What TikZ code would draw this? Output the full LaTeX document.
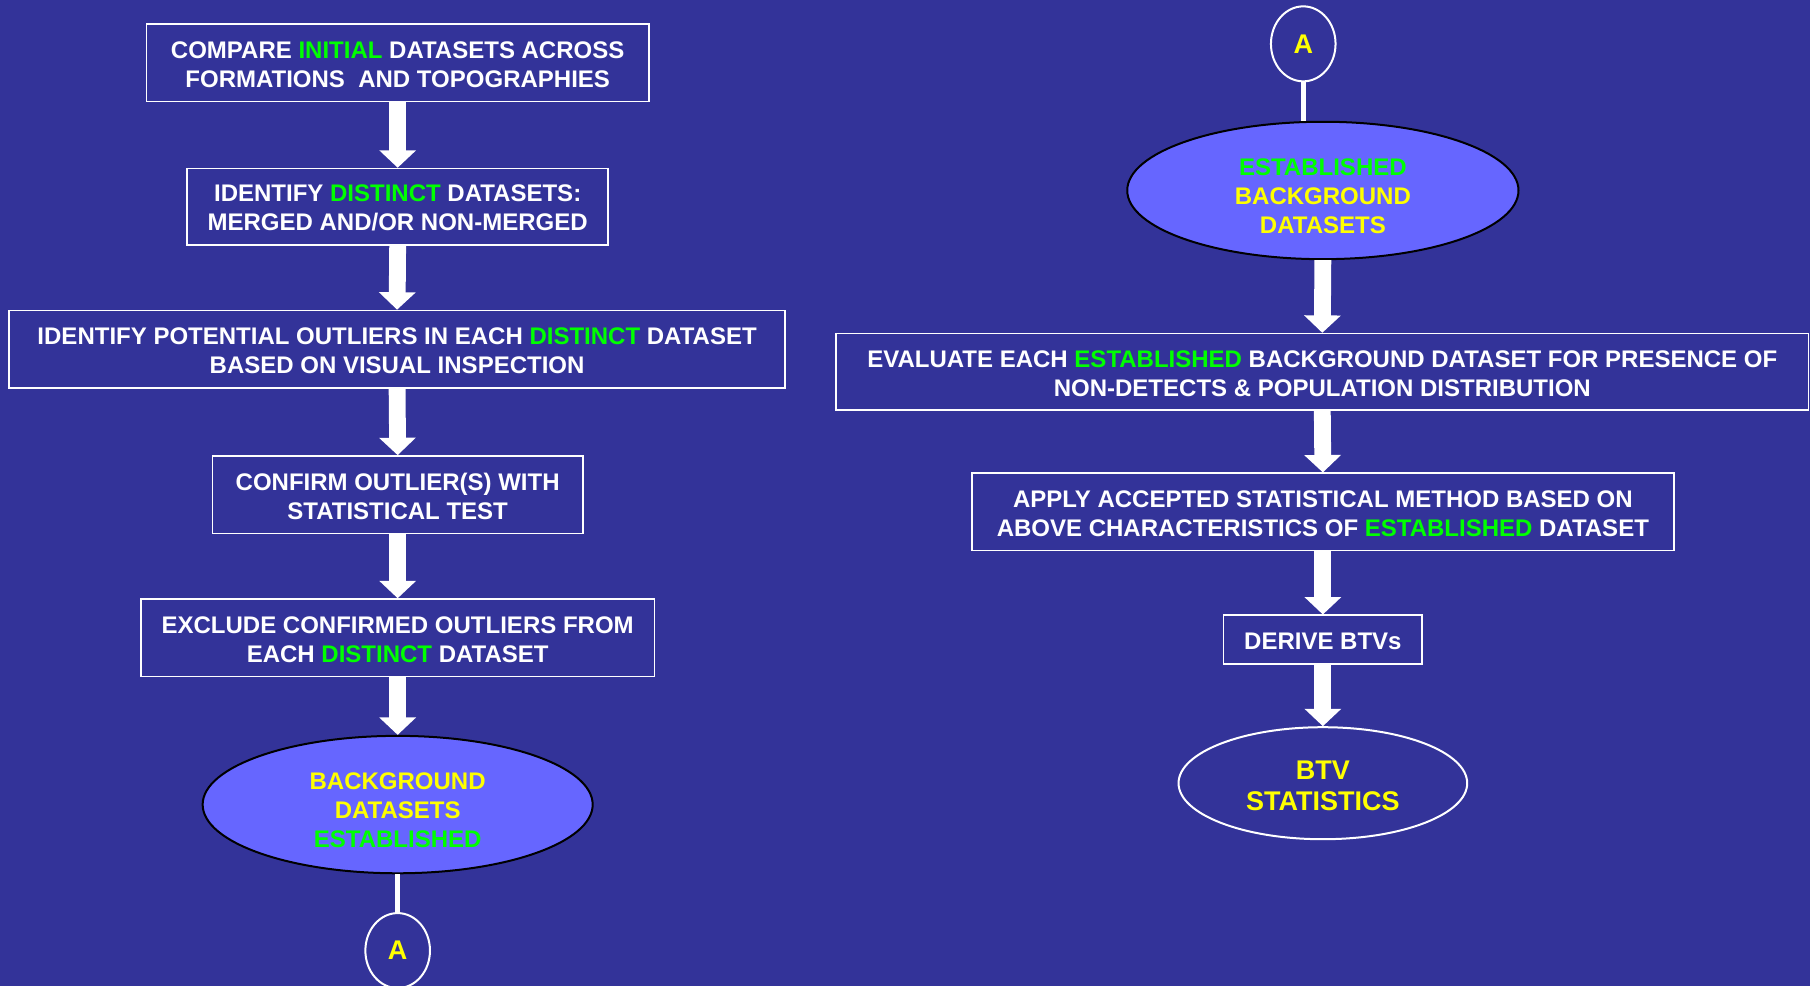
\documentclass[tikz,border=0pt]{standalone}
\usepackage{fontspec}
\setmainfont{Liberation Sans}
\usepackage{xcolor}
\usetikzlibrary{shapes.geometric,arrows.meta}
\definecolor{BgSlide}{HTML}{333399}
\definecolor{OvalFill}{HTML}{6666FF}
\definecolor{TextGreen}{HTML}{00FF00}
\definecolor{TextYellow}{HTML}{FFFF00}
\newcommand{\boxgap}{\rule{0pt}{10pt}}
\newcommand{\ovalgap}{\rule{0pt}{14.5pt}}

\begin{document}
\begin{tikzpicture}[x=0.5771pt, y=-0.5771pt,
		procbox/.style={draw=white, line width=0.8pt, text=white, align=center, inner sep=0pt, font=\fontsize{12}{14.5}\selectfont\bfseries},
		oval/.style={ellipse, draw=black, line width=1pt, fill=OvalFill, text=TextYellow, align=center, inner sep=0pt, font=\fontsize{12}{14.5}\selectfont\bfseries},
		connA/.style={ellipse, draw=white, line width=1pt, text=TextYellow, inner sep=0pt, minimum width=32.3pt, minimum height=37.5pt, font=\fontsize{13.5}{16}\selectfont\bfseries},
		fatarrow/.style={white, line width=8.4pt, -{Triangle[length=8.7pt,width=17.9pt]}},
		link/.style={white, line width=2.6pt}]
		% Background
		\fill[BgSlide] (0,0) rectangle (1568,854);
		\useasboundingbox (0,0) rectangle (1568,854);
		
		% Left column
		\node[procbox, minimum width=251pt, minimum height=38.7pt] (cmp) at (344.5,54.5) {\boxgap COMPARE \textcolor{TextGreen}{INITIAL} DATASETS ACROSS\\FORMATIONS\ \ AND TOPOGRAPHIES};
		\node[procbox, minimum width=210.6pt, minimum height=38.1pt] (dist) at (344.5,179) {\boxgap IDENTIFY \textcolor{TextGreen}{DISTINCT} DATASETS:\\MERGED AND/OR NON-MERGED};
		\node[procbox, minimum width=387.8pt, minimum height=38.7pt] (outl) at (344,302.5) {\boxgap IDENTIFY POTENTIAL OUTLIERS IN EACH \textcolor{TextGreen}{DISTINCT} DATASET\\BASED ON VISUAL INSPECTION};
		\node[procbox, minimum width=185.2pt, minimum height=38.7pt] (conf) at (344.5,428.5) {\boxgap CONFIRM OUTLIER(S) WITH\\STATISTICAL TEST};
		\node[procbox, minimum width=256.8pt, minimum height=38.7pt] (excl) at (344.5,552.5) {\boxgap EXCLUDE CONFIRMED OUTLIERS FROM\\EACH \textcolor{TextGreen}{DISTINCT} DATASET};
		\node[oval, minimum width=195pt, minimum height=68.7pt] (bgest) at (344.5,697) {\ovalgap BACKGROUND\\DATASETS\\\textcolor{TextGreen}{ESTABLISHED}};
		\node[connA] (aout) at (344.5,823.5) {A};
		
		% Right column
		\node[connA] (ain) at (1129,38) {A};
		\node[oval, minimum width=195.6pt, minimum height=68.7pt] (estbg) at (1146,165) {\ovalgap\textcolor{TextGreen}{ESTABLISHED}\\BACKGROUND\\DATASETS};
		\node[procbox, minimum width=486pt, minimum height=38.1pt] (eval) at (1145.5,322) {\boxgap EVALUATE EACH \textcolor{TextGreen}{ESTABLISHED} BACKGROUND DATASET FOR PRESENCE OF\\NON-DETECTS \& POPULATION DISTRIBUTION};
		\node[procbox, minimum width=350.9pt, minimum height=38.7pt] (apply) at (1146,443.5) {\boxgap APPLY ACCEPTED STATISTICAL METHOD BASED ON\\ABOVE CHARACTERISTICS OF \textcolor{TextGreen}{ESTABLISHED} DATASET};
		\node[procbox, minimum width=99.3pt, minimum height=24.2pt] (btvs) at (1146,554) {\boxgap DERIVE BTVs};
		\node[oval, draw=white, fill=none, minimum width=144.3pt, minimum height=56pt, font=\fontsize{13.5}{15.8}\selectfont\bfseries] (stats) at (1146,678.5) {\rule{0pt}{12pt}BTV\\STATISTICS};
		
		% Arrows
		\draw[fatarrow] (cmp.south) -- (dist.north);
		\draw[fatarrow] (dist.south) -- (outl.north);
		\draw[fatarrow] (outl.south) -- (conf.north);
		\draw[fatarrow] (conf.south) -- (excl.north);
		\draw[fatarrow] (excl.south) -- (bgest.north);
		\draw[link] (bgest.south) -- (aout.north);
		\draw[link] (ain.south) -- (ain.south |- estbg.north);
		\draw[fatarrow] (estbg.south) -- (eval.north);
		\draw[fatarrow] (eval.south) -- (apply.north);
		\draw[fatarrow] (apply.south) -- (btvs.north);
		\draw[fatarrow] (btvs.south) -- (stats.north);
	\end{tikzpicture}
\end{document}
